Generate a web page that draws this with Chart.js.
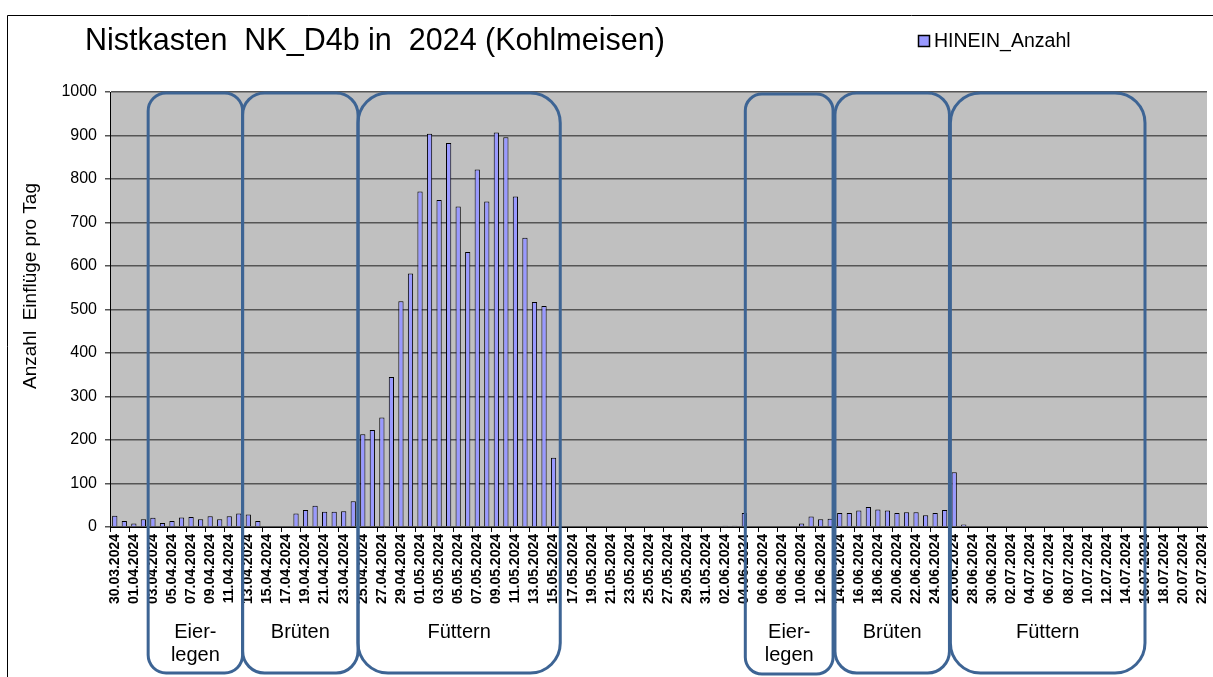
<!DOCTYPE html>
<html>
<head>
<meta charset="utf-8">
<title>Nistkasten NK_D4b 2024</title>
<script src="https://cdn.jsdelivr.net/npm/chart.js@4.4.1/dist/chart.umd.min.js"></script>
<style>
    html, body { margin: 0; padding: 0; background: #ffffff; }
    #wrap { width: 1213px; height: 677px; position: relative; }
</style>
</head>
<body>
<div id="wrap"><canvas id="nest-chart" width="1213" height="677"></canvas></div>
<script>
// daily counts, 30.03.2024 .. 22.07.2024 (one value per day)
var firstDay = "2024-03-30";
var lastDay = "2024-07-22";
var hineinAnzahl = [
    26, 14, 8, 18, 21, 9, 14, 22, 23, 18,
    25, 18, 25, 31, 29, 14, 0, 0, 0, 31,
    39, 49, 35, 35, 36, 59, 213, 223, 252, 345,
    519, 583, 771, 904, 752, 883, 737, 632, 822, 748,
    907, 896, 760, 665, 517, 508, 159, 1, 0, 2,
    0, 0, 0, 0, 0, 0, 2, 2, 2, 0,
    2, 0, 0, 0, 3, 3, 32, 0, 0, 0,
    0, 0, 8, 24, 18, 19, 32, 32, 38, 46,
    40, 38, 32, 34, 34, 27, 32, 39, 126, 6,
    0, 0, 0, 0, 0, 0, 0, 0, 0, 0,
    0, 0, 0, 0, 0, 0, 0, 0, 0, 0,
    0, 0, 0, 0, 0
];
var yTicks = [0, 100, 200, 300, 400, 500, 600, 700, 800, 900, 1000];

// breeding phases (boxes), start/end in days from first day
var phaseNames = ["Eier-\nlegen", "Brüten", "Füttern", "Eier-\nlegen", "Brüten", "Füttern"];
var phaseFrom = [4.0, 13.9, 26.0, 66.6, 76.0, 88.1];
var phaseTo = [13.9, 26.0, 47.2, 75.8, 88.0, 108.5];

var titleText = "Nistkasten  NK_D4b in  2024 (Kohlmeisen)";
var legendText = "HINEIN_Anzahl";
var yTitleText = "Anzahl  Einflüge pro Tag";

function pad2(n) {
    return n < 10 ? "0" + n : "" + n;
}

function makeDayLabels(from, to) {
    var out = [];
    var d = new Date(from + "T12:00:00");
    var end = new Date(to + "T12:00:00");
    while (d <= end) {
        out.push(pad2(d.getDate()) + "." + pad2(d.getMonth() + 1) + "." + d.getFullYear());
        d.setDate(d.getDate() + 1);
    }
    return out;
}

var dayLabels = makeDayLabels(firstDay, lastDay);

var FONT = '"Liberation Sans", Arial, sans-serif';
Chart.defaults.font.family = FONT;
Chart.defaults.color = "#000000";

function roundRect(ctx, x, y, w, h, r) {
    ctx.beginPath();
    ctx.moveTo(x + r, y);
    ctx.lineTo(x + w - r, y);
    ctx.arcTo(x + w, y, x + w, y + r, r);
    ctx.lineTo(x + w, y + h - r);
    ctx.arcTo(x + w, y + h, x + w - r, y + h, r);
    ctx.lineTo(x + r, y + h);
    ctx.arcTo(x, y + h, x, y + h - r, r);
    ctx.lineTo(x, y + r);
    ctx.arcTo(x, y, x + r, y, r);
    ctx.closePath();
}

var decoPlugin = {
    id: "deco",
    beforeDraw: function (chart) {
        var ctx = chart.ctx;
        var a = chart.chartArea;
        ctx.save();
        ctx.fillStyle = "#ffffff";
        ctx.fillRect(0, 0, chart.width, chart.height);
        ctx.fillStyle = "#c0c0c0";
        ctx.fillRect(a.left, a.top, a.right - a.left, a.bottom - a.top);
        // outer frame (only top and left are visible in the picture)
        ctx.strokeStyle = "#000000";
        ctx.lineWidth = 1;
        ctx.beginPath();
        ctx.moveTo(7.5, chart.height);
        ctx.lineTo(7.5, 15.5);
        ctx.lineTo(chart.width, 15.5);
        ctx.stroke();
        ctx.restore();
    },
    afterDraw: function (chart) {
        var ctx = chart.ctx;
        var xs = chart.scales.x;
        var ys = chart.scales.y;
        var top = ys.getPixelForValue(1000) + 1;
        var bottom = chart.height - 4;
        ctx.save();

        // phase boxes
        for (var i = 0; i < phaseNames.length; i++) {
            var x1 = xs.getPixelForValue(phaseFrom[i] - 0.5);
            var x2 = xs.getPixelForValue(phaseTo[i] - 0.5);
            var w = x2 - x1;
            var r = Math.min(30, w * 0.19);
            ctx.strokeStyle = "#3d6494";
            ctx.lineWidth = 3;
            roundRect(ctx, x1, i === 3 ? top + 1 : top, w, bottom - top, r);
            ctx.stroke();

            var lines = phaseNames[i].split("\n");
            ctx.fillStyle = "#000000";
            ctx.font = "20px " + FONT;
            ctx.textAlign = "center";
            ctx.textBaseline = "middle";
            for (var j = 0; j < lines.length; j++) {
                ctx.fillText(lines[j], (x1 + x2) / 2, 632 + j * 23);
            }
        }

        // title
        ctx.fillStyle = "#000000";
        ctx.textAlign = "left";
        ctx.textBaseline = "middle";
        ctx.font = "30.5px " + FONT;
        ctx.fillText(titleText, 85, 42);

        // legend
        ctx.fillStyle = "#9999ff";
        ctx.fillRect(918, 35, 12, 12);
        ctx.strokeStyle = "#000000";
        ctx.lineWidth = 1.5;
        ctx.strokeRect(918.5, 35.5, 11, 11);
        ctx.fillStyle = "#000000";
        ctx.font = "19.5px " + FONT;
        ctx.fillText(legendText, 934, 42);

        // y axis title
        ctx.translate(31, 286);
        ctx.rotate(-Math.PI / 2);
        ctx.textAlign = "center";
        ctx.font = "19px " + FONT;
        ctx.fillText(yTitleText, 0, 0);
        ctx.restore();
    }
};

var ctx = document.getElementById("nest-chart").getContext("2d");

var nestChart = new Chart(ctx, {
    type: "bar",
    data: {
        labels: dayLabels,
        datasets: [{
            label: legendText,
            data: hineinAnzahl,
            backgroundColor: "#9999ff",
            borderColor: "#000000",
            borderWidth: 1,
            borderSkipped: "bottom",
            categoryPercentage: 1.0,
            barPercentage: 0.55
        }]
    },
    options: {
        responsive: false,
        animation: false,
        devicePixelRatio: 1,
        layout: {
            padding: { left: 0, top: 92, right: 6, bottom: 0 }
        },
        plugins: {
            legend: { display: false },
            title: { display: false },
            tooltip: { enabled: false }
        },
        scales: {
            x: {
                afterFit: function (scale) {
                    scale.height = 150;
                    scale.paddingLeft = 0;
                    scale.paddingRight = 0;
                },
                grid: {
                    offset: true,
                    drawOnChartArea: false,
                    tickLength: 5,
                    color: function (c) { return c.index % 2 === 0 ? "#000000" : "rgba(0,0,0,0)"; }
                },
                border: { color: "#000000", width: 1 },
                ticks: {
                    autoSkip: false,
                    minRotation: 90,
                    maxRotation: 90,
                    padding: 2,
                    color: "#000000",
                    font: { size: 14, weight: "bold" },
                    callback: function (value, index) {
                        return index % 2 === 0 ? dayLabels[index] : "";
                    }
                }
            },
            y: {
                min: 0,
                max: 1000,
                afterFit: function (scale) { scale.width = 110; },
                afterBuildTicks: function (scale) {
                    scale.ticks = yTicks.map(function (v) { return { value: v }; });
                },
                grid: {
                    color: "#555555",
                    lineWidth: 1.5,
                    tickLength: 5
                },
                border: { color: "#000000", width: 1 },
                ticks: {
                    padding: 8,
                    color: "#000000",
                    font: { size: 16 },
                    callback: function (value) { return String(value); }
                }
            }
        }
    },
    plugins: [decoPlugin]
});
</script>
</body>
</html>
